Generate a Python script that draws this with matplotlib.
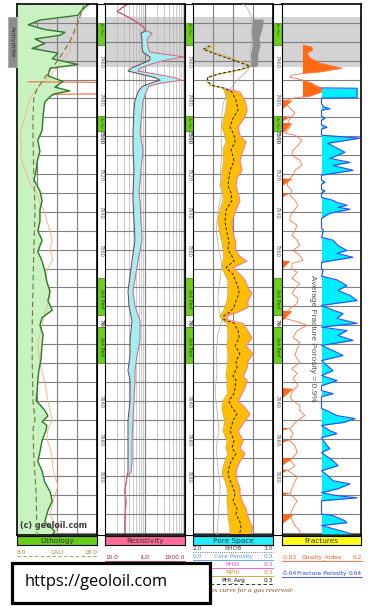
import numpy as np
import matplotlib.pyplot as plt
from matplotlib.lines import Line2D
from matplotlib.patches import Rectangle

W, H = 386, 609
TOP, BASE = 7430, 7711
anhy_top, anhy_base = 7437, 7463.5

# ---------------- Lithology track ----------------
gr_depth = [7430, 7430.5, 7433, 7436, 7438.5, 7441, 7443.5, 7445, 7446.5, 7448.5, 7451,
            7453.5, 7456, 7459, 7462, 7464, 7468, 7471, 7474, 7476, 7477.5,
            7479, 7482, 7484, 7489, 7497, 7502, 7508, 7513, 7518, 7523,
            7529, 7534, 7539, 7545, 7550, 7555, 7561, 7566, 7571, 7577,
            7582, 7587, 7592, 7596, 7600, 7605, 7610, 7618, 7624, 7629,
            7634, 7640, 7642, 7645, 7648, 7651, 7653, 7656, 7661, 7667,
            7672, 7677, 7683, 7688, 7693, 7698, 7704, 7709, 7711]
gr = [135, 133, 122, 114, 43, 21, 52, 90, 81, 34, 52,
      28, 77, 66, 114, 62, 58, 86, 71, 99, 71,
      62, 52, 51, 49, 47, 39, 43, 38, 36, 32,
      43, 47, 43, 43, 39, 47, 39, 47, 52, 56,
      62, 58, 66, 47, 43, 49, 47, 45, 41, 39,
      38, 36, 43, 52, 58, 47, 56, 54, 47, 43,
      39, 47, 52, 62, 66, 58, 52, 71, 66]

cali_depth = [7430, 7440, 7450, 7460, 7465, 7470, 7475, 7480, 7490, 7500, 7520,
              7540, 7560, 7580, 7600, 7620, 7640, 7650, 7655, 7670, 7690, 7711]
cali = [16.4, 15.6, 14.6, 13.1, 12.1, 11.3, 10.5, 10.1, 10.0, 10.0, 10.1,
        10.25, 10.1, 10.0, 9.9, 9.9, 10.0, 10.25, 10.0, 10.1, 10.4, 10.5]

sgr_depth = [7430, 7436, 7445, 7455, 7460, 7465, 7468, 7472, 7476, 7480,
             7485, 7490, 7495, 7500, 7505, 7510, 7515, 7520, 7525, 7530,
             7535, 7540, 7545, 7550, 7555, 7560, 7565, 7570, 7575, 7580,
             7585, 7590, 7595, 7600, 7605, 7610, 7620, 7630, 7640, 7645,
             7650, 7655, 7660, 7665, 7670, 7675, 7680, 7685, 7690, 7695,
             7700, 7705, 7711]
sgr = [133, 118, 109, 99, 84, 71, 62, 47, 34, 24,
       19, 15, 9, 6, 9, 7.5, 11, 19, 24, 36,
       43, 52, 56, 62, 66, 62, 67, 58, 54, 58,
       62, 56, 51, 47, 43, 39, 43, 52, 58, 62,
       66, 58, 56, 62, 66, 67, 71, 77, 71, 66,
       62, 71, 77]

pef_depth = [7471.2, 7471.5, 7477.5, 7477.8]
pef = [21, 180, 180, 66]

# ---------------- Resistivity track ----------------
res_depth = [7430, 7432, 7434, 7436, 7438, 7440, 7442, 7444, 7445.5, 7449,
             7453, 7455.5, 7458, 7459.7, 7462, 7464, 7465.5, 7467, 7469, 7470.3,
             7472, 7473.5, 7475.5, 7481, 7486, 7498, 7507, 7518, 7530, 7534,
             7544.5, 7555, 7566, 7582, 7590, 7597.5, 7608, 7616, 7624, 7629,
             7640, 7650.5, 7661, 7672, 7678, 7680, 7687.5, 7693, 7703.5, 7711]
res_shallow = [37.6, 26.6, 20, 31.6, 47.3, 66.8, 89.1, 106, 79.4, 84.1,
               84.1, 89.1, 133, 133, 75, 44.7, 37.6, 75, 178, 237,
               133, 89.1, 70.8, 56.2, 53.1, 50.1, 50.1, 53.1, 50.1, 50.1,
               53.1, 56.2, 47.3, 37.6, 39.8, 47.3, 42.2, 42.2, 37.6, 42.2,
               42.2, 37.6, 37.6, 37.6, 37.6, 35.5, 31.6, 33.5, 31.6, 31.6]
res_deep = [37.6, 26.6, 20, 31.6, 47.3, 66.8, 89.1, 106, 150, 112,
            119, 133, 944, 316, 133, 75, 66.8, 178, 562, 794,
            237, 126, 112, 89.1, 84.1, 75, 89.1, 79.4, 70.8, 75,
            79.4, 84.1, 66.8, 50.1, 56.2, 75, 75, 63.1, 56.2, 56.2,
            53.1, 50.1, 47.3, 47.3, 44.7, 35.5, 31.6, 33.5, 31.6, 31.6]

# ---------------- Pore space track ----------------
por_depth = [7452, 7454, 7457, 7460, 7463, 7465, 7467, 7469, 7471, 7473,
             7474.5, 7476.6, 7481, 7486, 7490.5, 7495, 7499.5, 7503, 7507, 7513,
             7518, 7522, 7526, 7530, 7534, 7539, 7545, 7551.5, 7556, 7560,
             7563.5, 7566, 7569.5, 7573, 7576, 7580, 7583, 7587, 7590.5, 7593,
             7595, 7597, 7599, 7603, 7606.5, 7611, 7615, 7619, 7622.5, 7627,
             7629, 7633, 7636, 7640, 7643.5, 7647, 7650.5, 7656, 7661, 7665,
             7668, 7672, 7675.5, 7678.5, 7682, 7686, 7689, 7693, 7697, 7700,
             7704, 7707.5, 7711]
nphi = [.083, .045, .109, .169, .221, .176, .101, .056, .053, .064,
        .113, .120, .128, .124, .116, .109, .120, .124, .113, .116,
        .109, .109, .101, .113, .113, .101, .094, .101, .109, .113,
        .116, .113, .109, .120, .131, .131, .131, .128, .120, .113,
        .101, .109, .128, .131, .131, .128, .131, .131, .128, .124,
        .128, .128, .131, .113, .109, .113, .120, .113, .128, .124,
        .131, .120, .113, .109, .120, .128, .131, .128, .131, .131,
        .135, .139, .139]
phid = [np.nan] * 10 + [
        .120, .176, .195, .203, .191, .169, .176, .199, .188, .176,
        .184, .165, .161, .169, .176, .161, .146, .150, .161, .158,
        .176, .203, .150, .176, .195, .206, .221, .206, .206, .169,
        .128, .128, .188, .206, .221, .199, .225, .206, .203, .188,
        .203, .195, .184, .169, .195, .214, .195, .169, .188, .176,
        .195, .176, .165, .161, .165, .176, .176, .184, .199, .203,
        .214, .225, .214]
phi_avg = [.064, .038, .094, .158, .214, .165, .094, .053, .056, .071,
           .116, .146, .161, .169, .150, .139, .154, .158, .143, .154,
           .139, .135, .131, .143, .146, .124, .120, .128, .135, .131,
           .146, .154, .124, .150, .158, .169, .173, .161, .154, .139,
           .116, .116, .154, .169, .173, .158, .176, .161, .165, .150,
           .161, .158, .154, .135, .146, .165, .150, .139, .154, .146,
           .161, .143, .135, .131, .139, .150, .158, .150, .165, .161,
           .176, .180, .173]

rhob_depth = [7430, 7432, 7436, 7440, 7445, 7450, 7455, 7460, 7464, 7467,
              7470, 7473, 7478, 7483, 7490, 7500, 7510, 7520, 7530, 7540,
              7550, 7560, 7567, 7575, 7585, 7592, 7597, 7605, 7615, 7625,
              7635, 7645, 7655, 7665, 7675, 7685, 7695, 7705, 7711]
rhob = [2.625, 2.675, 2.725, 2.74, 2.725, 2.74, 2.71, 2.725, 2.70, 2.64,
        2.56, 2.50, 2.425, 2.375, 2.36, 2.35, 2.36, 2.34, 2.36, 2.31,
        2.29, 2.325, 2.36, 2.34, 2.31, 2.325, 2.36, 2.31, 2.29, 2.30,
        2.275, 2.30, 2.325, 2.29, 2.31, 2.34, 2.325, 2.31, 2.30]

anhy_depth = [7438, 7440, 7443, 7448, 7452, 7456, 7460, 7463]
anhy_left = [2.74, 2.74, 2.73, 2.735, 2.74, 2.72, 2.725, 2.72]
anhy_right = [2.875, 2.875, 2.863, 2.825, 2.838, 2.81, 2.81, 2.80]

# ---------------- Fractures track ----------------
qi_depth = [7451.7, 7452.8, 7454.4, 7456, 7458.6, 7461.3, 7464, 7466, 7466.8, 7467.6,
            7468.7, 7470.3, 7471.9, 7473, 7474.5, 7476.6, 7478.8, 7479.3, 7479.8, 7480.9,
            7482.5, 7485.1, 7487.8, 7489.4, 7492, 7495.2, 7498.4, 7499.4, 7502, 7504.7,
            7507.4, 7510, 7512.7, 7515.3, 7518, 7520.6, 7523.3, 7526, 7528.6, 7531.2,
            7533.9, 7536.5, 7540.8, 7542.9, 7544.5, 7547.1, 7549.8, 7552.4, 7555, 7557.7,
            7560.4, 7563, 7565.7, 7567.3, 7570, 7572, 7575.2, 7578, 7580.5, 7583.2,
            7585.8, 7588.5, 7591.1, 7593.8, 7596.4, 7598.5, 7600.1, 7602.8, 7606.5, 7609.1,
            7612.3, 7616, 7619.7, 7622.9, 7625.5, 7628.2, 7631.9, 7634.6, 7638.3, 7639.9,
            7642.5, 7645.2, 7647.8, 7650.5, 7654.7, 7657.4, 7661.1, 7663.7, 7667.4, 7671.7,
            7674.3, 7677, 7680.2, 7685, 7689.2, 7692.9, 7696.7, 7700.8, 7706.1, 7708.8,
            7711]
qi = [.031, .057, .060, .043, .052, .081, .145, .081, .031, -.001,
      -.007, .031, .057, .066, .086, .086, .052, .031, .002, -.015,
      -.021, -.007, .008, -.001, -.0125, -.007, -.021, .008, .028, .017,
      .002, -.001, .022, .028, .008, .002, -.0125, -.015, -.001, -.007,
      .008, .017, -.001, -.007, -.007, .014, .008, -.001, .014, .022,
      .002, .022, .031, -.001, -.001, .014, -.001, .022, .008, -.001,
      .017, .014, -.007, -.0125, -.021, .022, .043, .014, .002, .022,
      .014, .008, .022, -.001, .014, .002, .017, .002, -.007, .002,
      .022, .022, .037, .014, -.007, .002, -.007, .008, .014, -.007,
      .008, -.0125, .014, .002, -.007, .014, .002, -.007, .008, .022,
      .022]
qi_cutoff = 0.031

flag_depth = [7480.5, 7480.9, 7485.5, 7489.0, 7489.4, 7492.0, 7492.5, 7492.9, 7498.4,
              7522.0, 7522.4, 7526.0, 7530.0, 7530.4, 7532.0, 7565.5, 7565.9, 7570.0,
              7592.0, 7592.4, 7597.5, 7633.0, 7633.4, 7638.5, 7654.0, 7654.3, 7655.5,
              7660.3, 7660.6, 7661.8, 7670.0, 7670.4, 7674.0, 7676.0, 7676.3, 7678.0,
              7688.3, 7688.6, 7690.0, 7699.8, 7700.2, 7705.0]
flag = [-.03, -.001, -.03, -.03, -.007, -.03, -.03, -.001, -.03,
        -.03, -.001, -.03, -.03, -.0125, -.03, -.03, -.007, -.03,
        -.03, -.001, -.03, -.03, .002, -.03, -.03, -.007, -.03,
        -.03, -.007, -.03, -.03, -.001, -.03, -.03, -.0125, -.03,
        -.03, -.007, -.03, -.03, .002, -.03]

fp_depth = [7474.4, 7474.6, 7479.6, 7479.8, 7483, 7484.6, 7485.4, 7486.2, 7489.4, 7490.4,
            7491.5, 7494, 7495.2, 7496.2, 7499.4, 7501, 7503.7, 7508.5, 7511.7, 7513.8,
            7515.4, 7518, 7520.6, 7523.3, 7524.3, 7525.4, 7528, 7529, 7530, 7532.3,
            7533.9, 7535, 7536.5, 7537.6, 7538.6, 7540.8, 7543.5, 7548.7, 7549.8, 7553.5,
            7555, 7557.8, 7560.4, 7562, 7564, 7566.7, 7570, 7571, 7574, 7576,
            7579, 7581.6, 7584.2, 7586.9, 7589.5, 7592, 7593.8, 7596.4, 7599, 7601,
            7602.8, 7605.4, 7608, 7610.7, 7613.4, 7616, 7618.7, 7621.3, 7624, 7626.6,
            7629.3, 7632, 7634.6, 7636.2, 7637.8, 7644, 7645.2, 7647.8, 7649.4, 7651.5,
            7653, 7655.8, 7657.3, 7659.5, 7663.7, 7665.3, 7667.4, 7671.7, 7674.3, 7677,
            7679.6, 7682.3, 7683.9, 7686.5, 7688.6, 7690.2, 7691.3, 7692.9, 7699.8, 7700.8,
            7703.5, 7704.5, 7706, 7708.8, 7710.4]
fp = [0, .036, .036, 0, 0, .003, .0086, 0, 0, .0035,
      0, 0, .0056, 0, 0, .039, .0065, .0238, .0086, .0289,
      .0117, .0319, 0, 0, .0035, 0, 0, .0035, 0, 0,
      .0117, .0157, .0258, .0167, .0289, .008, 0, 0, .002, 0,
      .0117, .0167, .0258, .0157, .0319, 0, 0, .0015, 0, .0157,
      .0258, .0167, .0289, .036, 0, .0117, .0218, .0157, .036, 0,
      .0258, .0167, .0319, 0, .0117, .0218, 0, .0056, .0117, 0,
      .0157, 0, 0, .0117, 0, 0, .0056, .0157, .034, .0218,
      0, .0086, .0157, 0, .0056, .0086, 0, .0117, .0167, 0,
      .0065, .0117, .0289, .0167, 0, .0157, .036, 0, 0, .012,
      .0238, .0258, 0, .02, .03]

# depth column content
depth_labels = list(range(7460, 7700, 20))
perf_top = [7440, 7489.5, 7575.2, 7601]
perf_base = [7451.7, 7497, 7594.8, 7620]

fig = plt.figure(figsize=(W / 100, H / 100), dpi=100)


def px_axes(x0, y0, x1, y1):
    return fig.add_axes([x0 / W, 1 - y1 / H, (x1 - x0) / W, (y1 - y0) / H])


def fx(x):
    return x / W


def fy(y):
    return 1 - y / H


def style_track(ax):
    ax.set_ylim(BASE, TOP)
    ax.set_yticks(np.arange(7440, BASE, 10))
    ax.tick_params(which='both', left=False, bottom=False, top=False, right=False,
                   labelleft=False, labelbottom=False)
    ax.grid(axis='y', color='#7f7f7f', lw=0.8)
    ax.axhspan(anhy_top, anhy_base, color='#d3d3d3', zorder=0.5, lw=0)
    for sp in ax.spines.values():
        sp.set_linewidth(1.2)
        sp.set_zorder(6)


# Lithology
ax1 = px_axes(17, 4, 97, 535)
ax1.set_xlim(0, 150)
ax1.set_xticks([37.5, 75, 112.5])
style_track(ax1)
ax1.grid(axis='x', color='#7f7f7f', lw=0.8)
ax1.fill_betweenx(gr_depth, 0, gr, color='#c8f2c0', lw=0, zorder=2)
ax1.plot(sgr, sgr_depth, color='#f2b890', lw=0.7, zorder=3)
ax1.plot(pef, pef_depth, color='#f06a3c', lw=0.8, zorder=3)
ax1.plot(gr, gr_depth, color='#2f7a2a', lw=1.0, zorder=4)
ax1c = ax1.twiny()
ax1c.set_xlim(8, 18)
ax1c.axis('off')
ax1c.plot(cali, cali_depth, color='#6b7a2e', lw=0.8, ls=(0, (5, 3)))
ax1.text(0.04, 7706, '(c) geoloil.com', transform=ax1.get_yaxis_transform(),
         fontsize=5.8, fontweight='bold', color='#3a3a3a', va='center', zorder=5)

# Resistivity
ax2 = px_axes(105, 4, 185, 535)
ax2.set_xscale('log')
ax2.set_xlim(10, 1000)
style_track(ax2)
ax2.set_xticks([100])
ax2.set_xticks([20, 30, 40, 50, 60, 70, 80, 90, 200, 300, 400, 500, 600, 700, 800, 900],
               minor=True)
ax2.tick_params(which='both', bottom=False, labelbottom=False)
ax2.grid(axis='x', which='major', color='#7f7f7f', lw=0.8)
ax2.grid(axis='x', which='minor', color='#b5b5b5', lw=0.5)
ax2.fill_betweenx(res_depth, res_shallow, res_deep, color='#9ef0f2', lw=0, zorder=2)
ax2.plot(res_shallow, res_depth, color='#7a3a48', lw=0.7, zorder=3)
ax2.plot(res_deep, res_depth, color='#e0607e', lw=0.7, zorder=3)

# Pore space
ax3 = px_axes(193, 4, 273, 535)
ax3.set_xlim(0, 0.3)
ax3.set_xticks([0.075, 0.15, 0.225])
style_track(ax3)
ax3.grid(axis='x', color='#7f7f7f', lw=0.8)
ax3.fill_betweenx(por_depth, nphi, phid, color='#ffbe00', lw=0, zorder=2)
ax3r = ax3.twiny()
ax3r.set_xlim(2.0, 3.0)
ax3r.axis('off')
ax3r.fill_betweenx(anhy_depth, anhy_left, anhy_right, color='#8e8e8e', lw=0)
ax3r.plot(rhob, rhob_depth, color='#b4b4b4', lw=0.6)
ax3.plot(phid, por_depth, color='#ff66cc', lw=0.6, zorder=3)
ax3.plot(nphi, por_depth, color='#d9b23a', lw=0.9, zorder=3)
ax3.plot(phi_avg, por_depth, color='#222222', lw=0.7, ls=(0, (3, 2)), zorder=4)

# Fractures
ax4 = px_axes(282, 4, 361, 535)
ax4.set_xlim(-0.03, 0.2)
style_track(ax4)
qd = np.array(qi_depth)
qv = np.array(qi)
ax4.fill_betweenx(qd, qi_cutoff, qv, where=(qd < 7481) & (qv >= qi_cutoff),
                  interpolate=True, color='#ff6a10', lw=0, zorder=2)
ax4.fill_betweenx(flag_depth, -0.03, flag, color='#ff6a10', lw=0, zorder=2)
ax4.plot(qi, qi_depth, color='#ff7448', lw=0.6, zorder=3)
ax4f = ax4.twiny()
ax4f.set_xlim(-0.04, 0.04)
ax4f.axis('off')
ax4f.fill_betweenx(fp_depth, 0, fp, color='#00eeff', lw=0)
ax4f.plot(fp, fp_depth, color='#2a4cff', lw=0.8)
ax4.text(0.39, 7607, 'Average Fracture Porosity = 0.9%', transform=ax4.get_yaxis_transform(),
         rotation=270, ha='center', va='center', fontsize=6, color='#555555',
         family='Liberation Sans', zorder=5)

# depth columns
for x0, x1 in [(97, 105), (185, 193), (273, 282)]:
    axd = px_axes(x0, 4, x1, 535)
    axd.set_xlim(0, 1)
    axd.set_ylim(BASE, TOP)
    axd.set_xticks([])
    axd.set_yticks([])
    for sp in axd.spines.values():
        sp.set_linewidth(0.8)
    for d in depth_labels:
        # labels sitting inside a perforation box are hidden by it
        if any(t <= d <= b for t, b in zip(perf_top, perf_base)):
            continue
        axd.text(0.5, d + 0.3, str(d), rotation=270, ha='center', va='center', fontsize=3.7,
                 color='#5a5a5a', fontweight='bold' if d % 100 == 0 else 'normal', zorder=1)
    for t, b in zip(perf_top, perf_base):
        axd.axhspan(t, b, facecolor='#6ccf1f', edgecolor='#3a7a10', lw=0.5, zorder=2)
        if b - t < 12:
            axd.text(0.5, t + 0.1, 'Act Perf', rotation=270, ha='center', va='top',
                     fontsize=2.2, color='#1d4a05', zorder=3)
        else:
            axd.text(0.5, (t + b) / 2 + 1, 'Act Perf', rotation=270, ha='center',
                     va='center', fontsize=3.6, color='#1d4a05', zorder=3)

# Anhydrite zone tag
axa = px_axes(8, 17, 17, 67)
axa.set_facecolor('#8c8c8c')
axa.set_xticks([])
axa.set_yticks([])
for sp in axa.spines.values():
    sp.set_color('#b0b0b0')
axa.text(0.5, 0.5, 'Anhydrite', rotation=270, ha='center', va='center', fontsize=4.6,
         color='#2e2e2e', transform=axa.transAxes)

# track title bars
bars = [(17, 97, 'Lithology', '#66cc1a'), (105, 185, 'Resistivity', '#ff6b9a'),
        (193, 273, 'Pore Space', '#22eeff'), (282, 361, 'Fractures', '#ffff1a')]
for x0, x1, name, col in bars:
    axb = px_axes(x0, 536, x1, 545)
    axb.set_facecolor(col)
    axb.set_xticks([])
    axb.set_yticks([])
    axb.text(0.5, 0.45, name, ha='center', va='center', fontsize=5.3, color='#333333',
             transform=axb.transAxes)


def legend_row(x0, x1, y, left, name, right, color, ls='-'):
    fs = 4.2
    if left:
        fig.text(fx(x0), fy(y), left, ha='left', va='bottom', fontsize=fs, color=color)
    fig.text(fx((x0 + x1) / 2), fy(y), name, ha='center', va='bottom', fontsize=fs, color=color)
    fig.text(fx(x1), fy(y), right, ha='right', va='bottom', fontsize=fs, color=color)
    fig.add_artist(Line2D([fx(x0), fx(x1)], [fy(y + 1.2)] * 2, color=color, lw=0.6, ls=ls))


legend_row(17, 97, 555, '8.0', 'CALI', '18.0', '#a08a3c', ls=(0, (4, 3)))
legend_row(105, 185, 560, '10.0', 'ILD', '1000.0', '#a02a3a')
legend_row(193, 273, 551, '2.0', 'RHOB', '3.0', '#444444', ls=':')
legend_row(193, 273, 559, '0.0', 'Core Porosity', '0.3', '#4aa0e0')
legend_row(193, 273, 567, '0.0', 'PHID', '0.3', '#ff44cc')
legend_row(193, 273, 575, '0.0', 'NPHI', '0.3', '#c8a020')
legend_row(193, 273, 583, '0.0', 'PHI_Avg', '0.3', '#111111', ls=(0, (4, 3)))
legend_row(282, 362, 560, '-0.03', 'Quality_Index', '0.2', '#ff5a2a')
legend_row(282, 362, 576, '-0.04', 'Fracture Porosity', '0.04', '#2a3cff')

fig.text(fx(293), fy(590), 'Quality Index curve for a gas reservoir', ha='right', va='center',
         fontsize=5.3, style='italic', family='Liberation Serif', color='#8b4a2b')

fig.add_artist(Rectangle((fx(12), fy(603)), 198 / W, 40 / H, transform=fig.transFigure,
                         facecolor='white', edgecolor='black', lw=2.3, zorder=10))
fig.text(fx(25), fy(582), 'https://geoloil.com', ha='left', va='center', fontsize=11.8,
         family='Open Sans', color='black', zorder=11)

fig.savefig('out.png', dpi=100)
